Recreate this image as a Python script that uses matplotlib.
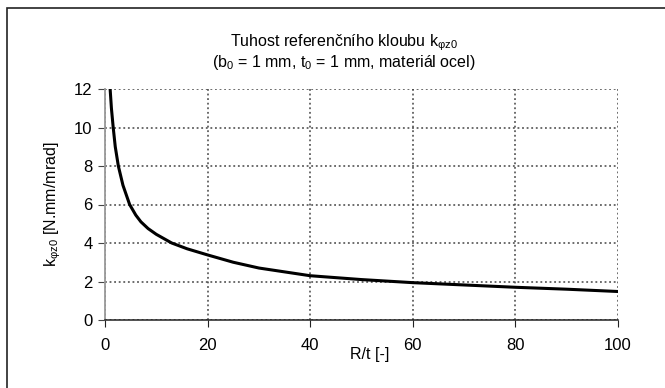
import matplotlib
matplotlib.use("Agg")
import matplotlib.pyplot as plt
from matplotlib.patches import Rectangle
import matplotlib.transforms as mtransforms

plt.rcParams['font.family'] = ['Liberation Sans', 'DejaVu Sans']
plt.rcParams['mathtext.fontset'] = 'custom'
plt.rcParams['mathtext.rm'] = 'Liberation Sans'
plt.rcParams['mathtext.it'] = 'Liberation Sans'

# hodnoty
rt = [1.0, 1.25, 1.6, 2.0, 2.6, 3.5, 4.8, 6.0, 7.0, 8.4, 10, 13, 16, 20, 25,
      30, 40, 50, 60, 70, 80, 90, 100]
k = [12.0, 11.0, 10.0, 9.0, 8.0, 7.0, 6.0, 5.45, 5.1, 4.75, 4.45, 4.0, 3.7,
     3.38, 3.0, 2.7, 2.3, 2.1, 1.94, 1.82, 1.70, 1.60, 1.48]
xticks = [0, 20, 40, 60, 80, 100]
yticks = [0, 2, 4, 6, 8, 10, 12]

fig = plt.figure(figsize=(6.65, 3.88), dpi=100)
fig.patches.append(Rectangle((7/665, -0.1), 1.2, 1.1 - 8/388,
                             transform=fig.transFigure, fill=False,
                             edgecolor='#222222', linewidth=1.2))
ax = fig.add_axes([105/665, 1-320/388, 513/665, 231/388])

ax.plot(rt, k, color='black', linewidth=2.2, solid_joinstyle='round')
ax.set_xlim(0, 100)
ax.set_ylim(0, 12)
ax.set_xticks(xticks)
ax.set_yticks(yticks)
ax.grid(True, linestyle=(0, (1.2, 1.8)), color='#444444', linewidth=1.1)
ax.set_axisbelow(True)
for s in ['top', 'right']:
    ax.spines[s].set_visible(False)
ax.spines['left'].set_color('#999999')
ax.spines['left'].set_linewidth(1.3)
ax.spines['bottom'].set_color('#222222')
ax.spines['bottom'].set_linewidth(1.1)
ax.tick_params(axis='both', direction='out', length=5, labelsize=12, pad=4)
ax.tick_params(axis='y', color='#444444')
ax.tick_params(axis='x', color='#222222', pad=8)

ax.set_ylabel(r'k$_{\varphi z0}$ [N.mm/mrad]', fontsize=11.5, labelpad=8)
trans = mtransforms.blended_transform_factory(ax.transData, ax.transAxes)
ax.text(51.5, -0.115, 'R/t [-]', transform=trans, ha='center', va='top',
        fontsize=11.5)

fig.text(344/665, 1-43/388, r'Tuhost referenčního kloubu k$_{\varphi z0}$',
         ha='center', va='center', fontsize=11.5)
fig.text(344/665, 1-62/388, r'(b$_0$ = 1 mm, t$_0$ = 1 mm, materiál ocel)',
         ha='center', va='center', fontsize=11.5)

fig.savefig('out.png', dpi=100)
